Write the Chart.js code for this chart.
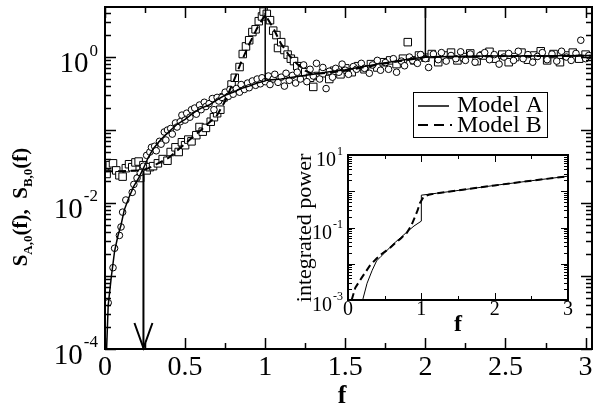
<!DOCTYPE html>
<html>
<head>
<meta charset="utf-8">
<script src="https://cdn.jsdelivr.net/npm/chart.js@4.4.1/dist/chart.umd.min.js"></script>
<style>
  html, body { margin: 0; padding: 0; background: #fff; }
  #wrap { position: relative; width: 601px; height: 414px; overflow: hidden; }
  #mainChart { position: absolute; left: 0; top: 0; }
  #insetChart { position: absolute; left: 280px; top: 140px; }
</style>
</head>
<body>
<div id="wrap">
  <canvas id="mainChart" width="601" height="414"></canvas>
  <canvas id="insetChart" width="300" height="200"></canvas>
</div>
<script>
// Spectrum data, circles (model A runs)
const circF = [0.02, 0.05, 0.06, 0.09, 0.10, 0.11, 0.13, 0.17, 0.18, 0.20, 0.22, 0.24, 0.26, 0.28, 0.29, 0.31, 0.32, 0.34, 0.35, 0.37,
  0.38, 0.39, 0.41, 0.42, 0.44, 0.45, 0.47, 0.48, 0.50, 0.51, 0.53, 0.54, 0.56, 0.57, 0.59, 0.60, 0.62, 0.63, 0.65, 0.67,
  0.68, 0.70, 0.71, 0.73, 0.75, 0.77, 0.78, 0.80, 0.82, 0.84, 0.85, 0.87, 0.89, 0.90, 0.92, 0.94, 0.95, 0.97, 0.98, 1.00,
  1.02, 1.03, 1.05, 1.06, 1.08, 1.10, 1.12, 1.13, 1.15, 1.17, 1.19, 1.20, 1.22, 1.24, 1.26, 1.28, 1.30, 1.32, 1.34, 1.36,
  1.38, 1.40, 1.42, 1.44, 1.46, 1.48, 1.50, 1.52, 1.55, 1.57, 1.60, 1.62, 1.65, 1.67, 1.70, 1.72, 1.75, 1.77, 1.80, 1.82,
  1.85, 1.87, 1.90, 1.92, 1.95, 1.97, 2.00, 2.02, 2.05, 2.08, 2.10, 2.13, 2.16, 2.19, 2.22, 2.25, 2.28, 2.31, 2.34, 2.37,
  2.40, 2.43, 2.46, 2.49, 2.52, 2.55, 2.58, 2.61, 2.64, 2.67, 2.70, 2.73, 2.76, 2.79, 2.82, 2.85, 2.88, 2.91, 2.94, 2.97,
  3.00, 3.02];
const circS = [4.3e-4, 1.3e-3, 2.4e-3, 3.6e-3, 4.7e-3, 7.5e-3, 0.011, 0.014, 0.018, 0.022, 0.026, 0.032, 0.045, 0.05, 0.058, 0.06, 0.052, 0.07, 0.064, 0.094,
  0.073, 0.1, 0.105, 0.088, 0.125, 0.11, 0.13, 0.16, 0.137, 0.17, 0.15, 0.19, 0.2, 0.165, 0.22, 0.19, 0.24, 0.21, 0.23, 0.27,
  0.19, 0.28, 0.25, 0.28, 0.33, 0.29, 0.36, 0.31, 0.37, 0.33, 0.42, 0.36, 0.44, 0.38, 0.47, 0.41, 0.5, 0.43, 0.52, 0.46,
  0.55, 0.42, 0.5, 0.58, 0.45, 0.53, 0.4, 0.6, 0.48, 0.56, 0.44, 0.62, 0.5, 0.78, 0.46, 0.68, 0.55, 0.82, 0.5, 0.72,
  0.37, 0.64, 0.53, 0.7, 0.62, 0.8, 0.66, 0.58, 0.74, 0.68, 0.82, 0.7, 0.6, 0.78, 0.9, 0.66, 0.84, 0.68, 0.95, 0.62,
  0.88, 0.76, 1.0, 0.9, 0.82, 1.08, 0.95, 0.72, 1.1, 0.92, 1.15, 0.88, 1.05, 0.95, 1.18, 0.9, 1.1, 0.85, 1.05, 1.15,
  0.92, 1.08, 0.8, 1.0, 1.12, 0.9, 1.2, 0.95, 1.08, 0.85, 1.02, 1.15, 0.92, 1.1, 0.88, 1.2, 1.0, 0.9, 1.12, 1.7,
  0.95, 1.05];

// Spectrum data, squares (model B runs)
const squF = [0.00, 0.01, 0.03, 0.05, 0.07, 0.09, 0.11, 0.13, 0.15, 0.17, 0.19, 0.21, 0.22, 0.24, 0.26, 0.28, 0.30, 0.33, 0.36, 0.39,
  0.41, 0.44, 0.46, 0.48, 0.50, 0.52, 0.54, 0.57, 0.59, 0.61, 0.63, 0.66, 0.68, 0.70, 0.72, 0.74, 0.76, 0.79, 0.81, 0.84,
  0.86, 0.88, 0.90, 0.92, 0.94, 0.96, 0.98, 0.99, 1.01, 1.03, 1.05, 1.07, 1.08, 1.10, 1.12, 1.14, 1.16, 1.18, 1.20, 1.23,
  1.25, 1.28, 1.30, 1.33, 1.36, 1.40, 1.43, 1.47, 1.50, 1.54, 1.58, 1.62, 1.66, 1.70, 1.74, 1.78, 1.82, 1.86, 1.89, 1.93,
  1.96, 2.00, 2.04, 2.08, 2.12, 2.16, 2.20, 2.24, 2.28, 2.32, 2.36, 2.40, 2.44, 2.48, 2.52, 2.56, 2.60, 2.64, 2.68, 2.72,
  2.76, 2.80, 2.84, 2.88, 2.92, 2.96, 3.00];
const squS = [0.03, 0.025, 0.033, 0.035, 0.028, 0.024, 0.023, 0.03, 0.034, 0.031, 0.036, 0.037, 0.022, 0.033, 0.028, 0.031, 0.032, 0.035, 0.04, 0.038,
  0.05, 0.058, 0.05, 0.068, 0.062, 0.074, 0.07, 0.085, 0.11, 0.095, 0.107, 0.13, 0.15, 0.17, 0.19, 0.28, 0.3, 0.42, 0.52, 0.73,
  1.1, 1.4, 1.7, 2.2, 2.4, 3.1, 3.6, 4.2, 3.9, 3.2, 2.3, 2.0, 1.33, 1.6, 1.25, 1.08, 0.95, 0.88, 0.75, 0.7,
  0.62, 0.52, 0.39, 0.55, 0.6, 0.5, 0.65, 0.58, 0.7, 0.62, 0.75, 0.68, 0.8, 0.72, 0.85, 0.9, 0.8, 0.95, 1.6, 0.9,
  1.05, 0.98, 1.1, 0.85, 1.05, 1.15, 0.9, 1.0, 1.12, 0.88, 1.05, 1.18, 0.95, 1.08, 0.85, 1.0, 1.15, 0.92, 1.05, 1.2,
  0.9, 1.1, 0.85, 1.05, 1.15, 0.95, 1.08];

// Model curves (main panel)
const modelAF = [0.01, 0.02, 0.04, 0.06, 0.08, 0.10, 0.12, 0.15, 0.18, 0.21, 0.24, 0.27, 0.30, 0.35, 0.40, 0.45, 0.50, 0.55, 0.60, 0.65,
  0.70, 0.75, 0.80, 0.85, 0.90, 0.95, 1.00, 1.00, 1.00, 1.10, 1.20, 1.30, 1.40, 1.50, 1.60, 1.70, 1.80, 1.90, 2.00, 2.00,
  2.00, 2.20, 2.40, 2.60, 2.80, 3.04];
const modelAS = [1e-4, 4e-4, 1e-3, 2.2e-3, 3.5e-3, 5e-3, 8e-3, 0.012, 0.017, 0.022, 0.03, 0.042, 0.055, 0.075, 0.095, 0.12, 0.14, 0.17, 0.2, 0.22,
  0.26, 0.3, 0.33, 0.37, 0.4, 0.44, 0.47, 4.0, 0.48, 0.5, 0.54, 0.58, 0.63, 0.67, 0.73, 0.8, 0.87, 0.94, 1.0, 50,
  1.0, 1.02, 1.03, 1.03, 1.04, 1.05];
const modelBF = [0.00, 0.24, 0.30, 0.40, 0.50, 0.60, 0.70, 0.75, 0.80, 0.85, 0.90, 0.95, 1.00, 1.05, 1.10, 1.15, 1.20, 1.25, 1.30, 1.50,
  1.75, 2.00, 2.50, 3.04];
const modelBS = [0.027, 0.028, 0.032, 0.042, 0.065, 0.1, 0.16, 0.25, 0.45, 0.85, 1.5, 2.5, 3.8, 2.5, 1.5, 1.05, 0.8, 0.65, 0.58, 0.65,
  0.82, 1.0, 1.03, 1.04];

// Arrow marking the crossing frequency
const arrowF = [0.24, 0.24];
const arrowS = [0.028, 1e-4];

// Inset: integrated power
const insetAF = [0.20, 0.26, 0.33, 0.39, 0.45, 0.50, 0.57, 0.65, 0.72, 0.80, 0.90, 1.00, 1.00, 1.21, 1.50, 2.00, 2.50, 3.00];
const insetAS = [1e-3, 2.9e-3, 6.6e-3, 0.012, 0.016, 0.02, 0.028, 0.04, 0.053, 0.074, 0.11, 0.15, 0.78, 0.88, 1.05, 1.45, 1.95, 2.6];
const insetBF = [0.05, 0.10, 0.19, 0.30, 0.39, 0.45, 0.57, 0.65, 0.72, 0.80, 0.86, 0.91, 0.95, 0.98, 1.03, 1.10, 1.21, 1.50, 2.00, 2.50, 3.00];
const insetBS = [1e-3, 2.2e-3, 4.2e-3, 9e-3, 0.014, 0.018, 0.027, 0.038, 0.05, 0.07, 0.11, 0.19, 0.3, 0.47, 0.7, 0.8, 0.88, 1.05, 1.45, 1.95, 2.6];

// Ticks and labels
const mainXMajor = [0, 0.5, 1, 1.5, 2, 2.5, 3];
const mainXMinor = [0.25, 0.75, 1.25, 1.75, 2.25, 2.75];
const mainXLabels = ['0', '0.5', '1', '1.5', '2', '2.5', '3'];
const mainYMajor = [1e-4, 1e-3, 1e-2, 1e-1, 1];
const mainYLabelVals = [1e-4, 1e-2, 1];
const mainYLabelExp = ['-4', '-2', '0'];
const insetXMajor = [0, 1, 2, 3];
const insetXMinor = [0.5, 1.5, 2.5];
const insetXLabels = ['0', '1', '2', '3'];
const insetYMajor = [1e-3, 1e-2, 1e-1, 1, 10];
const insetYLabelVals = [1e-3, 1e-1, 10];
const insetYLabelExp = ['-3', '-1', '1'];

const SERIF = '"Liberation Serif", "DejaVu Serif", serif';

function pts(xs, ys) {
    return xs.map((x, i) => ({ x: x, y: ys[i] }));
}

function logMinor(lo, hi) {
    const out = [];
    for (let e = lo; e < hi; e++) {
        for (let m = 2; m <= 9; m++) out.push(m * Math.pow(10, e));
    }
    return out;
}

function drawFrameAndTicks(chart, t) {
    const { ctx, chartArea: a, scales: { x, y } } = chart;
    ctx.save();
    ctx.strokeStyle = '#000';
    ctx.lineWidth = t.tickWidth;
    ctx.beginPath();
    const xt = (vals, len) => vals.forEach(v => {
        if (v < x.min || v > x.max) return;
        const px = Math.round(x.getPixelForValue(v)) + 0.5;
        ctx.moveTo(px, a.bottom); ctx.lineTo(px, a.bottom - len);
        ctx.moveTo(px, a.top); ctx.lineTo(px, a.top + len);
    });
    const yt = (vals, len) => vals.forEach(v => {
        if (v < y.min || v > y.max) return;
        const py = Math.round(y.getPixelForValue(v)) + 0.5;
        ctx.moveTo(a.left, py); ctx.lineTo(a.left + len, py);
        ctx.moveTo(a.right, py); ctx.lineTo(a.right - len, py);
    });
    xt(t.xMajor, t.majorLen);
    xt(t.xMinor, t.minorLen);
    yt(t.yMajor, t.majorLen);
    yt(t.yMinor, t.minorLen);
    ctx.stroke();
    ctx.lineWidth = t.frameWidth;
    ctx.strokeRect(a.left, a.top, a.right - a.left, a.bottom - a.top);
    ctx.restore();
}

function powLabel(ctx, exp, xRight, yTick, base, sup, dyBase, dySup) {
    ctx.font = sup + 'px ' + SERIF;
    const we = ctx.measureText(exp).width;
    ctx.font = base + 'px ' + SERIF;
    const wb = ctx.measureText('10').width;
    ctx.textAlign = 'left';
    ctx.textBaseline = 'middle';
    ctx.fillText('10', xRight - we - wb - 1, yTick + dyBase);
    ctx.font = sup + 'px ' + SERIF;
    ctx.fillText(exp, xRight - we, yTick + dySup);
}

function richText(ctx, parts, cx, cy) {
    let total = 0;
    parts.forEach(p => { ctx.font = p.font; p.w = ctx.measureText(p.t).width; total += p.w; });
    let xx = cx - total / 2;
    ctx.textAlign = 'left';
    ctx.textBaseline = 'alphabetic';
    parts.forEach(p => { ctx.font = p.font; ctx.fillText(p.t, xx, cy + (p.dy || 0)); xx += p.w; });
}

const mainDecor = {
    id: 'mainDecor',
    afterDraw(chart) {
        const { ctx, chartArea: a, scales: { x, y } } = chart;
        drawFrameAndTicks(chart, {
            xMajor: mainXMajor, xMinor: mainXMinor,
            yMajor: mainYMajor, yMinor: logMinor(-4, 1),
            majorLen: 11, minorLen: 6, tickWidth: 1.5, frameWidth: 2
        });
        ctx.save();
        ctx.fillStyle = '#000';
        ctx.strokeStyle = '#000';

        // arrow head
        const ax = x.getPixelForValue(arrowF[1]);
        const ay = y.getPixelForValue(arrowS[1]);
        ctx.lineWidth = 2;
        ctx.beginPath();
        ctx.moveTo(ax - 9, ay - 26); ctx.lineTo(ax, ay - 1); ctx.lineTo(ax + 9, ay - 26);
        ctx.stroke();

        // x tick labels
        ctx.font = '28px ' + SERIF;
        ctx.textAlign = 'center';
        ctx.textBaseline = 'middle';
        mainXMajor.forEach((v, i) => ctx.fillText(mainXLabels[i], x.getPixelForValue(v), a.bottom + 19));

        // y tick labels
        mainYLabelVals.forEach((v, i) => powLabel(ctx, mainYLabelExp[i], a.left - 7, y.getPixelForValue(v), 29, 17, 7, -6));

        // axis titles
        ctx.font = 'bold 26px ' + SERIF;
        ctx.textAlign = 'center';
        ctx.textBaseline = 'middle';
        ctx.fillText('f', 342, 396);

        ctx.save();
        ctx.translate(20, 207);
        ctx.rotate(-Math.PI / 2);
        const big = 'bold 21px ' + SERIF, small = 'bold 13px ' + SERIF;
        richText(ctx, [
            { t: 'S', font: big }, { t: 'A,0', font: small, dy: 5 }, { t: '(f),  S', font: big },
            { t: 'B,0', font: small, dy: 5 }, { t: '(f)', font: big }
        ], 0, 7);
        ctx.restore();

        // legend box
        ctx.fillStyle = '#fff';
        ctx.fillRect(413, 92, 134, 45);
        ctx.lineWidth = 1;
        ctx.strokeRect(413.5, 92.5, 134, 45);
        ctx.fillStyle = '#000';
        ctx.lineWidth = 1.5;
        ctx.beginPath();
        ctx.moveTo(418, 106); ctx.lineTo(449, 106);
        ctx.stroke();
        ctx.lineWidth = 2;
        ctx.setLineDash([10, 6]);
        ctx.beginPath();
        ctx.moveTo(418, 125); ctx.lineTo(452, 125);
        ctx.stroke();
        ctx.setLineDash([]);
        ctx.font = '24px ' + SERIF;
        ctx.textAlign = 'left';
        ctx.textBaseline = 'middle';
        ctx.fillText('Model A', 457, 106);
        ctx.fillText('Model B', 457, 126);
        ctx.restore();
    }
};

const insetDecor = {
    id: 'insetDecor',
    afterDraw(chart) {
        const { ctx, chartArea: a, scales: { x, y } } = chart;
        drawFrameAndTicks(chart, {
            xMajor: insetXMajor, xMinor: insetXMinor,
            yMajor: insetYMajor, yMinor: logMinor(-3, 1),
            majorLen: 7, minorLen: 4, tickWidth: 1, frameWidth: 2
        });
        ctx.save();
        ctx.fillStyle = '#000';
        ctx.font = '20px ' + SERIF;
        ctx.textAlign = 'center';
        ctx.textBaseline = 'middle';
        insetXMajor.forEach((v, i) => ctx.fillText(insetXLabels[i], x.getPixelForValue(v), a.bottom + 10));
        insetYLabelVals.forEach((v, i) => powLabel(ctx, insetYLabelExp[i], a.left - 5, y.getPixelForValue(v), 20, 12, 6, -3));

        ctx.font = 'bold 24px ' + SERIF;
        ctx.textAlign = 'center';
        ctx.fillText('f', (a.left + a.right) / 2, a.bottom + 25);

        ctx.save();
        ctx.translate(25, 88);
        ctx.rotate(-Math.PI / 2);
        ctx.font = '22px ' + SERIF;
        ctx.textAlign = 'center';
        ctx.textBaseline = 'middle';
        ctx.fillText('integrated power', 0, 0);
        ctx.restore();
        ctx.restore();
    }
};

const hidden = {
    ticks: { display: false },
    grid: { display: false },
    border: { display: false }
};

new Chart(document.getElementById('mainChart'), {
    type: 'scatter',
    data: {
        datasets: [
            { label: 'Model A', data: pts(modelAF, modelAS), showLine: true, borderColor: '#000', borderWidth: 1.5, pointRadius: 0, order: 0 },
            { label: 'Model B', data: pts(modelBF, modelBS), showLine: true, borderColor: '#000', borderWidth: 2, borderDash: [8, 5], pointRadius: 0, order: 0 },
            { label: 'arrow', data: pts(arrowF, arrowS), showLine: true, borderColor: '#000', borderWidth: 2, pointRadius: 0, order: 0 },
            { label: 'circles', data: pts(circF, circS), pointStyle: 'circle', pointRadius: 3.3, borderWidth: 1, borderColor: '#000', backgroundColor: '#fff', order: 1 },
            { label: 'squares', data: pts(squF, squS), pointStyle: 'rect', pointRadius: 5.3, borderWidth: 1, borderColor: '#000', backgroundColor: '#fff', order: 2 }
        ]
    },
    options: {
        responsive: false,
        animation: false,
        devicePixelRatio: 1,
        events: [],
        layout: { padding: { top: 7, right: 9, left: 0, bottom: 0 } },
        plugins: { legend: { display: false }, tooltip: { enabled: false } },
        scales: {
            x: { type: 'linear', min: 0, max: 3.04, ...hidden, afterFit: s => { s.height = 65; } },
            y: { type: 'logarithmic', min: 1e-4, max: 4.85, ...hidden, afterFit: s => { s.width = 105; } }
        }
    },
    plugins: [mainDecor]
});

new Chart(document.getElementById('insetChart'), {
    type: 'scatter',
    data: {
        datasets: [
            { label: 'Model A', data: pts(insetAF, insetAS), showLine: true, borderColor: '#000', borderWidth: 1, pointRadius: 0 },
            { label: 'Model B', data: pts(insetBF, insetBS), showLine: true, borderColor: '#000', borderWidth: 2, borderDash: [7, 4], pointRadius: 0 }
        ]
    },
    options: {
        responsive: false,
        animation: false,
        devicePixelRatio: 1,
        events: [],
        layout: { padding: { top: 15, right: 12, left: 0, bottom: 0 } },
        plugins: { legend: { display: false }, tooltip: { enabled: false } },
        scales: {
            x: { type: 'linear', min: 0, max: 3, ...hidden, afterFit: s => { s.height = 40; } },
            y: { type: 'logarithmic', min: 1e-3, max: 10, ...hidden, afterFit: s => { s.width = 68; } }
        }
    },
    plugins: [insetDecor]
});
</script>
</body>
</html>
